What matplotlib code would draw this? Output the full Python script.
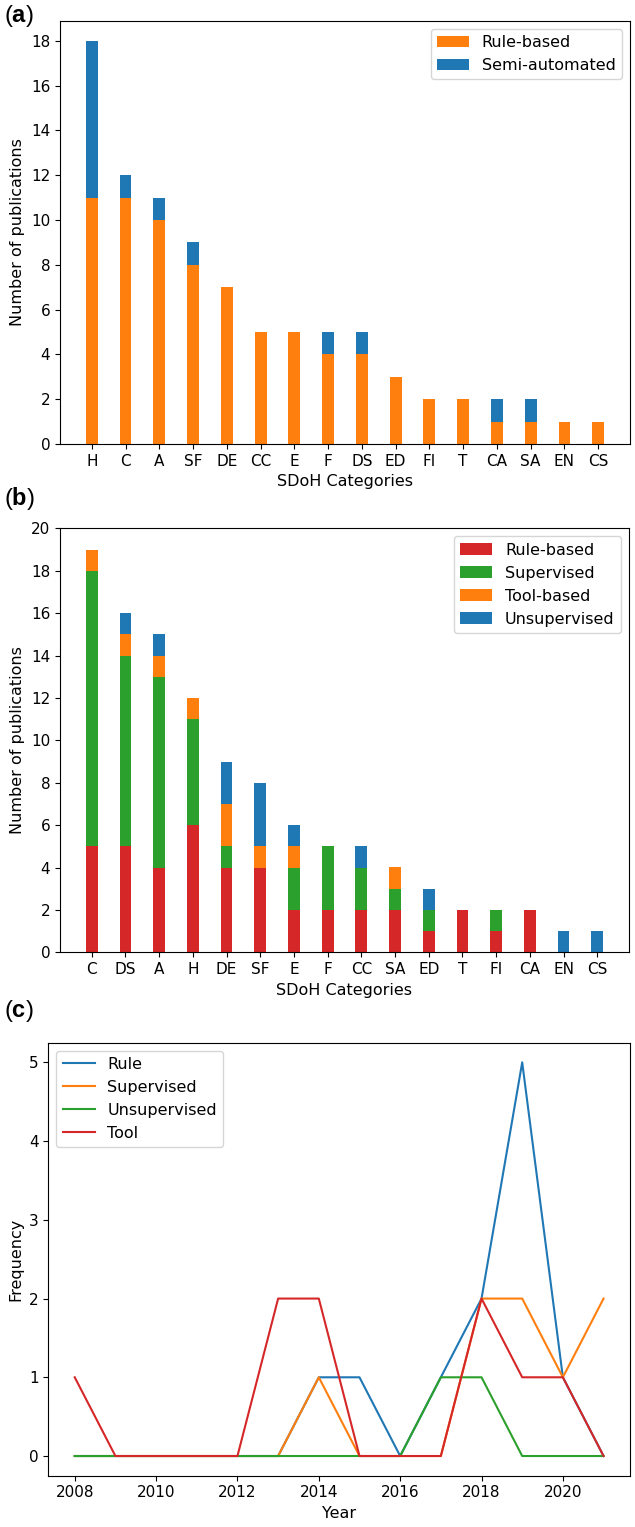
import numpy as np
import matplotlib
matplotlib.use('Agg')
import matplotlib.pyplot as plt

plt.rcParams['font.size'] = 11.5
plt.rcParams['xtick.labelsize'] = 11
plt.rcParams['ytick.labelsize'] = 11
plt.rcParams['mathtext.fontset'] = 'custom'
plt.rcParams['mathtext.rm'] = 'Liberation Sans'
plt.rcParams['mathtext.bf'] = 'Liberation Sans:bold'

# (a) rule-based vs semi-automated per SDoH category
cats_a = ['H', 'C', 'A', 'SF', 'DE', 'CC', 'E', 'F', 'DS', 'ED', 'FI', 'T', 'CA', 'SA', 'EN', 'CS']
rule_a = [11, 11, 10, 8, 7, 5, 5, 4, 4, 3, 2, 2, 1, 1, 1, 1]
semi_a = [7, 1, 1, 1, 0, 0, 0, 1, 1, 0, 0, 0, 1, 1, 0, 0]

# (b) method type per SDoH category
cats_b = ['C', 'DS', 'A', 'H', 'DE', 'SF', 'E', 'F', 'CC', 'SA', 'ED', 'T', 'FI', 'CA', 'EN', 'CS']
rule_b = [5, 5, 4, 6, 4, 4, 2, 2, 2, 2, 1, 2, 1, 2, 0, 0]
sup_b = [13, 9, 9, 5, 1, 0, 2, 3, 2, 1, 1, 0, 1, 0, 0, 0]
tool_b = [1, 1, 1, 1, 2, 1, 1, 0, 0, 1, 0, 0, 0, 0, 0, 0]
unsup_b = [0, 1, 1, 0, 2, 3, 1, 0, 1, 0, 1, 0, 0, 0, 1, 1]

# (c) frequency per year
years = list(range(2008, 2022))
rule_c = [0, 0, 0, 0, 0, 0, 1, 1, 0, 1, 2, 5, 1, 0]
sup_c = [0, 0, 0, 0, 0, 0, 1, 0, 0, 0, 2, 2, 1, 2]
unsup_c = [0, 0, 0, 0, 0, 0, 0, 0, 0, 1, 1, 0, 0, 0]
tool_c = [1, 0, 0, 0, 0, 2, 2, 0, 0, 0, 2, 1, 1, 0]

W = 635
H = 1527
fig = plt.figure(figsize=(W / 100, H / 100), dpi=100)
fig.patch.set_facecolor('#FFFFFF')

def px_axes(left, top, right, bottom):
    return fig.add_axes([left / W, 1 - bottom / H, (right - left) / W, (bottom - top) / H])

def panel_label(txt, x, y):
    fig.text(x / W, 1 - y / H, r'($\mathbf{%s}$)' % txt, fontsize=17,
             family='Liberation Sans', ha='left', va='top')

bw = 0.35

#Panel (a)
ax1 = px_axes(60, 20.7, 630, 444)
x = np.arange(len(cats_a))
ax1.bar(x, rule_a, bw, color='tab:orange', label='Rule-based')
ax1.bar(x, semi_a, bw, bottom=rule_a, color='tab:blue', label='Semi-automated')
ax1.set_xticks(x)
ax1.set_xticklabels(cats_a)
ax1.set_yticks(np.arange(0, 19, 2))
ax1.set_xlabel('SDoH Categories')
ax1.set_ylabel('Number of publications')
ax1.legend(loc='upper right')
panel_label('a', 4, 3)

#Panel (b)
ax2 = px_axes(60, 528.3, 629, 952.3)
x = np.arange(len(cats_b))
b1 = np.array(rule_b)
b2 = b1 + np.array(sup_b)
b3 = b2 + np.array(tool_b)
ax2.bar(x, rule_b, bw, color='tab:red', label='Rule-based')
ax2.bar(x, sup_b, bw, bottom=b1, color='tab:green', label='Supervised')
ax2.bar(x, tool_b, bw, bottom=b2, color='tab:orange', label='Tool-based')
ax2.bar(x, unsup_b, bw, bottom=b3, color='tab:blue', label='Unsupervised')
ax2.set_xticks(x)
ax2.set_xticklabels(cats_b)
ax2.set_ylim(0, 20)
ax2.set_yticks(np.arange(0, 21, 2))
ax2.set_xlabel('SDoH Categories')
ax2.set_ylabel('Number of publications')
ax2.legend(loc='upper right')
panel_label('b', 4, 485)

#Panel (c)
ax3 = px_axes(48.3, 1042.7, 630, 1475.7)
ax3.plot(years, rule_c, label='Rule')
ax3.plot(years, sup_c, label='Supervised')
ax3.plot(years, unsup_c, label='Unsupervised')
ax3.plot(years, tool_c, label='Tool')
ax3.set_xlabel('Year')
ax3.set_ylabel('Frequency')
ax3.legend(loc='upper left')
panel_label('c', 4, 998)

fig.savefig('out.png', dpi=100)
